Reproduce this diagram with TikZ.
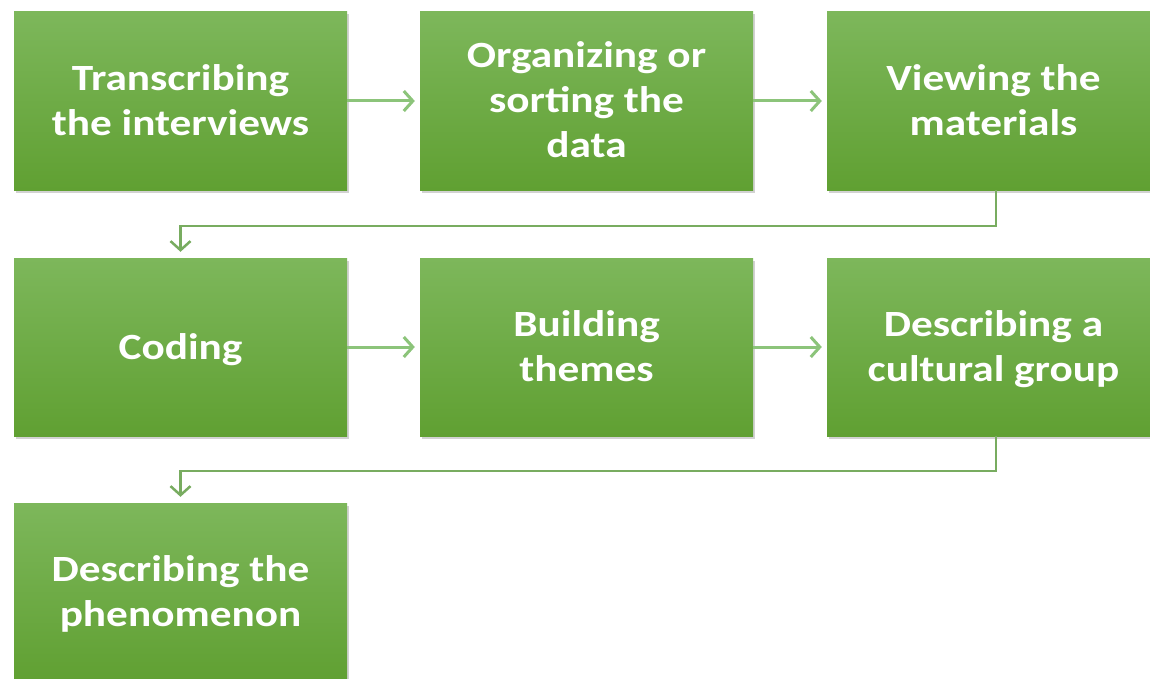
\documentclass[tikz,border=0pt]{standalone}
\usepackage{fontspec}
\setmainfont{Carlito}
\usetikzlibrary{arrows.meta,shadows}
\definecolor{gtop}{HTML}{7DB75B}
\definecolor{gbot}{HTML}{60A032}
\definecolor{arr}{HTML}{8CC47A}
\definecolor{conn}{HTML}{78AC60}
\newcommand\boxtext[1]{\raisebox{-3pt}[\height][\depth]{\scalebox{1.17}[1]{\begin{tabular}{@{}c@{}}#1\end{tabular}}}}
\tikzset{
  stepbox/.style={minimum width=333pt, minimum height=178pt, inner sep=0pt,
    top color=gtop, bottom color=gbot, draw=none,
    drop shadow={opacity=0.35, shadow xshift=1.5pt, shadow yshift=-2.5pt},
    text=white, font=\bfseries\fontsize{37}{45}\selectfont, align=center},
  flow/.style={draw=arr, line width=3pt, -{Straight Barb[length=9pt,width=20pt,line width=3pt]}},
  elbow/.style={draw=conn, line width=2.5pt, -{Straight Barb[length=9pt,width=20pt,line width=2.5pt]}}
}
\begin{document}
\begin{tikzpicture}[x=1pt,y=-1pt]
\useasboundingbox (0,0) rectangle (1150,679);
\fill[white] (0,0) rectangle (1150,679);
\node[stepbox] (a) at (180.5,101) {\boxtext{Transcribing\\the interviews}};
\node[stepbox] (b) at (586.5,101) {\boxtext{Organizing or\\sorting the\\data}};
\node[stepbox] (c) at (993.5,101) {\boxtext{Viewing the\\materials}};
\node[stepbox] (d) at (180.5,347) {\boxtext{Coding}};
\node[stepbox] (e) at (586.5,347) {\boxtext{Building\\themes}};
\node[stepbox] (f) at (993.5,347) {\boxtext{Describing a\\cultural group}};
\node[stepbox] (g) at (180.5,592) {\boxtext{Describing the\\phenomenon}};
\draw[flow] (a.east) -- ([xshift=-5pt]b.west);
\draw[flow] (b.east) -- ([xshift=-5pt]c.west);
\draw[flow] (d.east) -- ([xshift=-5pt]e.west);
\draw[flow] (e.east) -- ([xshift=-5pt]f.west);
\draw[elbow] ([xshift=2.5pt]c.south) -- ++(0,36) -| ([yshift=6pt]d.north);
\draw[elbow] ([xshift=2.5pt]f.south) -- ++(0,35) -| ([yshift=6pt]g.north);
\end{tikzpicture}
\end{document}
